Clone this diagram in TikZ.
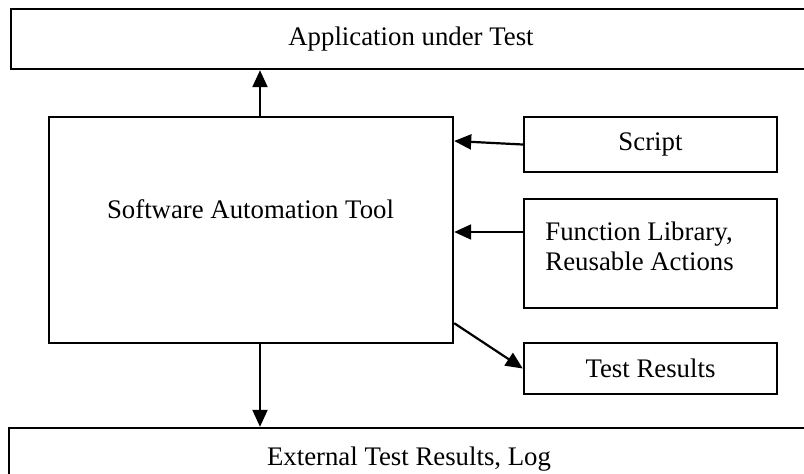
\documentclass[tikz,border=0pt]{standalone}
\usepackage{fontspec}
\setmainfont{Liberation Serif}
\usepackage{tikz}
\usetikzlibrary{arrows.meta,positioning,calc}

\tikzset{
  box/.style={draw, line width=1.2pt, inner sep=0pt, font=\fontsize{13.4}{15}\selectfont},
  txt/.style={inner sep=0pt, font=\fontsize{13.4}{15}\selectfont},
  arr/.style={line width=1.1pt, -{Triangle[length=8.5pt,width=7.5pt]}}
}

\begin{document}
\begin{tikzpicture}[x=0.5pt, y=-0.5pt]
\useasboundingbox (0,0) rectangle (804,473);
\clip (0,0) rectangle (804,473);
% Outer layers
\node[box, minimum width=400pt, minimum height=30pt] (aut) at (411,39) {Application under Test};
\node[box, minimum width=400pt, minimum height=31pt] (log) at (409,459) {External Test Results, Log};
% Tool
\node[box, minimum width=202pt, minimum height=113pt] (tool) at (251,230) {};
\node[txt] (toollabel) at (250.5,209) {Software Automation Tool};
% Inputs and outputs
\node[box, minimum width=126.5pt, minimum height=27.5pt] (script) at (650.5,144.5) {Script};
\node[box, minimum width=126.5pt, minimum height=54.5pt] (func) at (650.5,253.5) {};
\node[txt, anchor=west, align=left] (funclabel) at (545,246) {Function Library,\\Reusable Actions};
\node[box, minimum width=126.5pt, minimum height=25.5pt] (results) at (650.5,368.5) {Test Results};
% Connectors
\draw[arr] ([xshift=4.5pt]tool.north) -- ([xshift=4.5pt]tool.north |- aut.south);
\draw[arr] (script.west) -- ([yshift=1.75pt]script.west -| tool.east);
\draw[arr] ([yshift=10.75pt]func.west) -- ([yshift=10.75pt]func.west -| tool.east);
\draw[arr] ([yshift=10.5pt]tool.south east) -- (results.west);
\draw[arr] ([xshift=4.5pt]tool.south) -- ([xshift=4.5pt]tool.south |- log.north);
\end{tikzpicture}
\end{document}
